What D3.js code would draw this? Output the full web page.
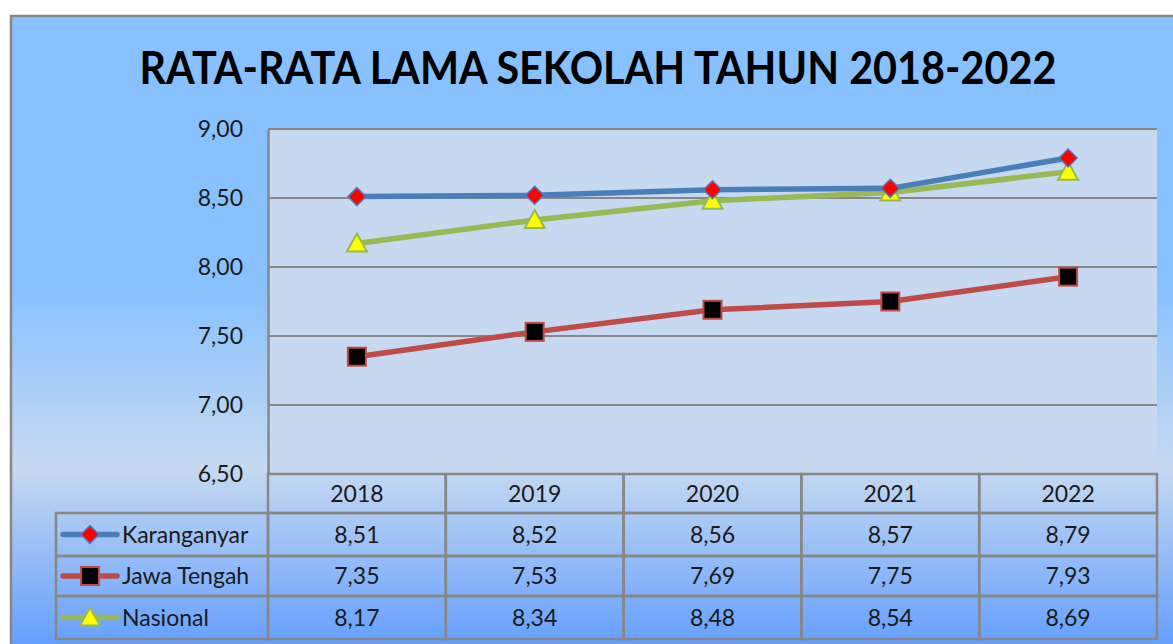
<!DOCTYPE html>
<html>
<head>
<meta charset="utf-8">
<script src="https://cdn.jsdelivr.net/npm/d3@7"></script>
<style>
  body { margin: 0; background: #fff; }
  text { font-family: Lato, "Open Sans", sans-serif; fill: #1a1a1a; }
</style>
</head>
<body>
<div id="chart"></div>
<script>
// Data
var years = ["2018", "2019", "2020", "2021", "2022"];
var seriesNames = ["Karanganyar", "Jawa Tengah", "Nasional"];
var karanganyar = [8.51, 8.52, 8.56, 8.57, 8.79];
var jawaTengah = [7.35, 7.53, 7.69, 7.75, 7.93];
var nasional = [8.17, 8.34, 8.48, 8.54, 8.69];
var yTicks = [6.5, 7.0, 7.5, 8.0, 8.5, 9.0];
var title = "RATA-RATA LAMA SEKOLAH TAHUN 2018-2022";

var W = 1173, H = 644;
var plot = {left: 268, right: 1157, top: 129, bottom: 474};
var tableLeft = 56, rowH = [39, 43, 40, 43];

var fmt = function(v) { return d3.format(".2f")(v).replace(".", ","); };

var svg = d3.select("#chart").append("svg")
  .attr("width", W).attr("height", H);

// background gradient of the chart frame
var defs = svg.append("defs");
var grad = defs.append("linearGradient").attr("id", "bg")
  .attr("x1", 0).attr("y1", 0).attr("x2", 0).attr("y2", 1);
grad.append("stop").attr("offset", "0%").attr("stop-color", "#87c1ff");
grad.append("stop").attr("offset", "42%").attr("stop-color", "#87c1ff");
grad.append("stop").attr("offset", "70%").attr("stop-color", "#c6d9f0");
grad.append("stop").attr("offset", "100%").attr("stop-color", "#5c9aff");

svg.append("rect")
  .attr("x", 11).attr("y", 16).attr("width", 1180).attr("height", 645)
  .attr("fill", "url(#bg)").attr("stroke", "#878787").attr("stroke-width", 2.5);

// title
svg.append("text")
  .attr("x", 598).attr("y", 84)
  .attr("text-anchor", "middle")
  .attr("textLength", 917).attr("lengthAdjust", "spacingAndGlyphs")
  .style("font-size", "45px").style("font-weight", 700)
  .style("fill", "#000")
  .text(title);

// scales
var x = d3.scaleBand().domain(years).range([plot.left, plot.right]);
var y = d3.scaleLinear().domain([6.5, 9.0]).range([plot.bottom, plot.top]);

// plot area
svg.append("rect")
  .attr("x", plot.left).attr("y", plot.top)
  .attr("width", plot.right - plot.left).attr("height", plot.bottom - plot.top)
  .attr("fill", "#c6d9f0");

// gridlines
svg.append("g").selectAll("line").data(yTicks).enter().append("line")
  .attr("x1", plot.left).attr("x2", plot.right)
  .attr("y1", function(d) { return y(d); }).attr("y2", function(d) { return y(d); })
  .attr("stroke", "#878787").attr("stroke-width", 2);

// y axis
var yAxis = svg.append("g")
  .attr("transform", "translate(" + plot.left + ",0)")
  .call(d3.axisLeft(y).tickValues(yTicks).tickFormat(fmt).tickSize(0).tickPadding(25));
yAxis.select(".domain").attr("stroke", "#878787").attr("stroke-width", 2.5);
yAxis.selectAll("text").style("font-size", "23px").style("font-family", "Lato, sans-serif").attr("fill", "#1a1a1a");

// series
var series = [
  {name: seriesNames[0], values: karanganyar, color: "#4a7ebb", marker: "diamond"},
  {name: seriesNames[1], values: jawaTengah, color: "#be4b48", marker: "square"},
  {name: seriesNames[2], values: nasional, color: "#98b954", marker: "triangle"}
];

function drawMarker(g, type, cx, cy, color) {
  if (type === "diamond") {
    g.append("path")
      .attr("d", "M0,-9L9,0L0,9L-9,0Z")
      .attr("transform", "translate(" + cx + "," + cy + ")")
      .attr("fill", "#ff0000").attr("stroke", color).attr("stroke-width", 1.5);
  } else if (type === "square") {
    g.append("rect")
      .attr("x", cx - 9).attr("y", cy - 9).attr("width", 18).attr("height", 18)
      .attr("fill", "#000").attr("stroke", color).attr("stroke-width", 2);
  } else {
    g.append("path")
      .attr("d", "M0,-10L10,8L-10,8Z")
      .attr("transform", "translate(" + cx + "," + cy + ")")
      .attr("fill", "#ffff00").attr("stroke", color).attr("stroke-width", 2);
  }
}

var line = d3.line()
  .x(function(d, i) { return x(years[i]) + x.bandwidth() / 2; })
  .y(function(d) { return y(d); });

// draw lines in series order, markers on top per series
[2, 0, 1].forEach(function(k) {
  var s = series[k];
  var g = svg.append("g");
  g.append("path").datum(s.values)
    .attr("d", line).attr("fill", "none")
    .attr("stroke", s.color).attr("stroke-width", 5.5)
    .attr("stroke-linejoin", "round");
  s.values.forEach(function(v, i) {
    drawMarker(g, s.marker, x(years[i]) + x.bandwidth() / 2, y(v), s.color);
  });
});

// data table
var rowTop = [plot.bottom];
rowH.forEach(function(h, i) { rowTop.push(rowTop[i] + h); });

var tbl = svg.append("g");
var gridColor = "#878787";

// header row (years)
years.forEach(function(yr) {
  tbl.append("rect")
    .attr("x", x(yr)).attr("y", rowTop[0])
    .attr("width", x.bandwidth()).attr("height", rowH[0])
    .attr("fill", "none").attr("stroke", gridColor).attr("stroke-width", 2.5);
  tbl.append("text")
    .attr("x", x(yr) + x.bandwidth() / 2).attr("y", rowTop[0] + rowH[0] / 2 + 8)
    .attr("text-anchor", "middle").style("font-size", "23px")
    .text(yr);
});

series.forEach(function(s, r) {
  var top = rowTop[r + 1], h = rowH[r + 1], mid = top + h / 2;
  tbl.append("rect")
    .attr("x", tableLeft).attr("y", top)
    .attr("width", plot.left - tableLeft).attr("height", h)
    .attr("fill", "none").attr("stroke", gridColor).attr("stroke-width", 2.5);
  tbl.append("line")
    .attr("x1", 63).attr("x2", 117).attr("y1", mid).attr("y2", mid)
    .attr("stroke", s.color).attr("stroke-width", 5.5).attr("stroke-linecap", "round");
  drawMarker(tbl, s.marker, 90, mid, s.color);
  tbl.append("text")
    .attr("x", 122).attr("y", mid + 8)
    .style("font-size", "23px")
    .text(s.name);
  s.values.forEach(function(v, i) {
    tbl.append("rect")
      .attr("x", x(years[i])).attr("y", top)
      .attr("width", x.bandwidth()).attr("height", h)
      .attr("fill", "none").attr("stroke", gridColor).attr("stroke-width", 2.5);
    tbl.append("text")
      .attr("x", x(years[i]) + x.bandwidth() / 2).attr("y", mid + 8)
      .attr("text-anchor", "middle").style("font-size", "23px")
      .text(fmt(v));
  });
});
</script>
</body>
</html>
